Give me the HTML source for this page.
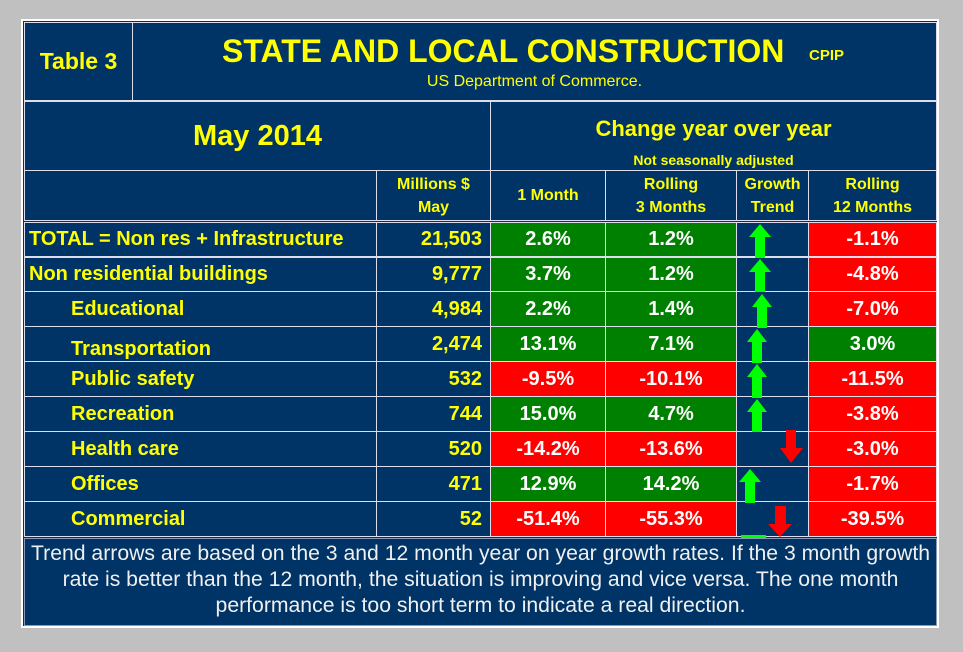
<!DOCTYPE html>
<html><head><meta charset="utf-8"><style>
body{margin:0;width:963px;height:652px;background:#c0c0c0;position:relative;overflow:hidden;font-family:"Liberation Sans",Arial,sans-serif;}
.c{position:absolute;box-sizing:border-box;border:1px solid #dde;background:#003366;color:#ffff00;font-weight:bold;font-size:20px;display:flex;align-items:center;justify-content:center;white-space:nowrap;}
.g{background:#008000;color:#fff;}
.r{background:#ff0000;color:#fff;}
.l{justify-content:flex-start;padding-left:4px;}
.i{padding-left:46px;}
.rt{justify-content:flex-end;padding-right:8px;}
.a{position:absolute;}
</style></head><body>
<div style="position:absolute;left:21px;top:19px;width:918px;height:609px;background:#fff;"></div>
<div style="position:absolute;left:23px;top:21px;width:914px;height:605px;background:#003366;"></div>
<div class="c" style="left:24px;top:22px;width:109px;height:79px;font-size:23px">Table 3</div>
<div class="c" style="left:132px;top:22px;width:805px;height:79px;display:block">
<div style="position:absolute;left:89px;top:10px;font-size:32px">STATE AND LOCAL CONSTRUCTION</div>
<div style="position:absolute;left:676px;top:24px;font-size:15px">CPIP</div>
<div style="position:absolute;left:0;width:100%;top:50px;text-align:center;font-size:16px;font-weight:normal">US Department of Commerce.</div>
</div>
<div class="c" style="left:24px;top:101px;width:467px;height:70px;font-size:29px">May 2014</div>
<div class="c" style="left:490px;top:101px;width:447px;height:70px;display:block">
<div style="position:absolute;width:100%;top:14px;text-align:center;font-size:22px">Change year over year</div>
<div style="position:absolute;width:100%;top:50px;text-align:center;font-size:14px">Not seasonally adjusted</div>
</div>
<div class="c" style="left:24px;top:170px;width:353px;height:51px"></div>
<div class="c" style="left:376px;top:170px;width:115px;height:51px;font-size:16px;text-align:center;line-height:23px;white-space:normal">Millions $<br>May</div>
<div class="c" style="left:490px;top:170px;width:116px;height:51px;font-size:16px">1 Month</div>
<div class="c" style="left:605px;top:170px;width:132px;height:51px;font-size:16px;text-align:center;line-height:23px">Rolling<br>3 Months</div>
<div class="c" style="left:736px;top:170px;width:73px;height:51px;font-size:16px;text-align:center;line-height:23px">Growth<br>Trend</div>
<div class="c" style="left:808px;top:170px;width:129px;height:51px;font-size:16px;text-align:center;line-height:23px">Rolling<br>12 Months</div>

<div class="c l" style="left:24px;top:222px;width:353px;height:35px">TOTAL = Non res + Infrastructure</div>
<div class="c rt" style="left:376px;top:222px;width:115px;height:35px">21,503</div>
<div class="c g" style="left:490px;top:222px;width:116px;height:35px">2.6%</div>
<div class="c g" style="left:605px;top:222px;width:132px;height:35px">1.2%</div>
<div class="c" style="left:736px;top:222px;width:73px;height:35px"></div>
<div class="c r" style="left:808px;top:222px;width:129px;height:35px">-1.1%</div>

<div class="c l" style="left:24px;top:257px;width:353px;height:35px">Non residential buildings</div>
<div class="c rt" style="left:376px;top:257px;width:115px;height:35px">9,777</div>
<div class="c g" style="left:490px;top:257px;width:116px;height:35px">3.7%</div>
<div class="c g" style="left:605px;top:257px;width:132px;height:35px">1.2%</div>
<div class="c" style="left:736px;top:257px;width:73px;height:35px"></div>
<div class="c r" style="left:808px;top:257px;width:129px;height:35px">-4.8%</div>

<div class="c l i" style="left:24px;top:291px;width:353px;height:36px">Educational</div>
<div class="c rt" style="left:376px;top:291px;width:115px;height:36px">4,984</div>
<div class="c g" style="left:490px;top:291px;width:116px;height:36px">2.2%</div>
<div class="c g" style="left:605px;top:291px;width:132px;height:36px">1.4%</div>
<div class="c" style="left:736px;top:291px;width:73px;height:36px"></div>
<div class="c r" style="left:808px;top:291px;width:129px;height:36px">-7.0%</div>

<div class="c l i" style="left:24px;top:326px;width:353px;height:36px;padding-top:10px">Transportation</div>
<div class="c rt" style="left:376px;top:326px;width:115px;height:36px">2,474</div>
<div class="c g" style="left:490px;top:326px;width:116px;height:36px">13.1%</div>
<div class="c g" style="left:605px;top:326px;width:132px;height:36px">7.1%</div>
<div class="c" style="left:736px;top:326px;width:73px;height:36px"></div>
<div class="c g" style="left:808px;top:326px;width:129px;height:36px">3.0%</div>

<div class="c l i" style="left:24px;top:361px;width:353px;height:36px">Public safety</div>
<div class="c rt" style="left:376px;top:361px;width:115px;height:36px">532</div>
<div class="c r" style="left:490px;top:361px;width:116px;height:36px">-9.5%</div>
<div class="c r" style="left:605px;top:361px;width:132px;height:36px">-10.1%</div>
<div class="c" style="left:736px;top:361px;width:73px;height:36px"></div>
<div class="c r" style="left:808px;top:361px;width:129px;height:36px">-11.5%</div>

<div class="c l i" style="left:24px;top:396px;width:353px;height:36px">Recreation</div>
<div class="c rt" style="left:376px;top:396px;width:115px;height:36px">744</div>
<div class="c g" style="left:490px;top:396px;width:116px;height:36px">15.0%</div>
<div class="c g" style="left:605px;top:396px;width:132px;height:36px">4.7%</div>
<div class="c" style="left:736px;top:396px;width:73px;height:36px"></div>
<div class="c r" style="left:808px;top:396px;width:129px;height:36px">-3.8%</div>

<div class="c l i" style="left:24px;top:431px;width:353px;height:36px">Health care</div>
<div class="c rt" style="left:376px;top:431px;width:115px;height:36px">520</div>
<div class="c r" style="left:490px;top:431px;width:116px;height:36px">-14.2%</div>
<div class="c r" style="left:605px;top:431px;width:132px;height:36px">-13.6%</div>
<div class="c" style="left:736px;top:431px;width:73px;height:36px"></div>
<div class="c r" style="left:808px;top:431px;width:129px;height:36px">-3.0%</div>

<div class="c l i" style="left:24px;top:466px;width:353px;height:36px">Offices</div>
<div class="c rt" style="left:376px;top:466px;width:115px;height:36px">471</div>
<div class="c g" style="left:490px;top:466px;width:116px;height:36px">12.9%</div>
<div class="c g" style="left:605px;top:466px;width:132px;height:36px">14.2%</div>
<div class="c" style="left:736px;top:466px;width:73px;height:36px"></div>
<div class="c r" style="left:808px;top:466px;width:129px;height:36px">-1.7%</div>

<div class="c l i" style="left:24px;top:501px;width:353px;height:36px">Commercial</div>
<div class="c rt" style="left:376px;top:501px;width:115px;height:36px">52</div>
<div class="c r" style="left:490px;top:501px;width:116px;height:36px">-51.4%</div>
<div class="c r" style="left:605px;top:501px;width:132px;height:36px">-55.3%</div>
<div class="c" style="left:736px;top:501px;width:73px;height:36px"></div>
<div class="c r" style="left:808px;top:501px;width:129px;height:36px">-39.5%</div>

<div class="c" style="left:24px;top:538px;width:913px;height:88px;padding:0 0 4px;color:#f0f0f0;font-weight:normal;font-size:21.2px;text-align:center;white-space:normal;line-height:26px;border-color:#8899bb"><div style="width:911px">Trend arrows are based on the 3 and 12 month year on year growth rates. If the 3 month growth<br>rate is better than the 12 month, the situation is improving and vice versa. The one month<br>performance is too short term to indicate a real direction.</div></div>

<svg class="a" style="left:0;top:0" width="963" height="652">
<g fill="#00ff00">
<polygon points="760,224 771,237 765,237 765,258 755,258 755,237 749,237"/>
<polygon points="760,259 771,272 765,272 765,292 755,292 755,272 749,272"/>
<polygon points="762,294 772,307 767,307 767,328 757,328 757,307 752,307"/>
<polygon points="757,329 767,342 762,342 762,363 752,363 752,342 747,342"/>
<polygon points="757,364 767,377 762,377 762,398 752,398 752,377 747,377"/>
<polygon points="757,399 767,412 762,412 762,432 752,432 752,412 747,412"/>
<polygon points="750,469 761,482 755,482 755,503 745,503 745,482 739,482"/>
<rect x="741" y="535" width="25" height="3"/>
</g>
<g fill="#ff0000">
<polygon points="786,430 796,430 796,448 803,448 791,463 780,448 786,448"/>
<polygon points="775,506 786,506 786,524 792,524 780,537 768,524 775,524"/>
</g>
</svg>
</body></html>
